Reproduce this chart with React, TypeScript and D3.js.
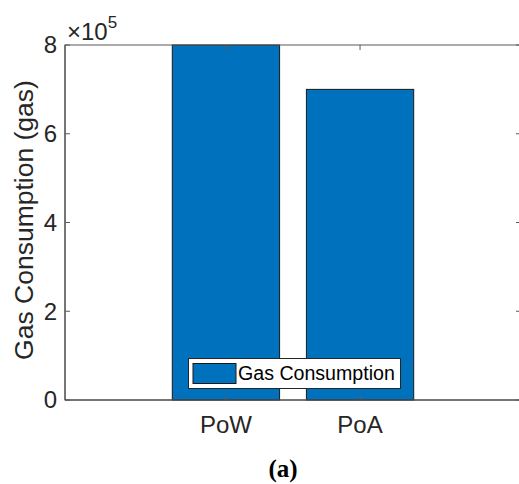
import React from "react"
import * as d3 from "d3"

// chart data
const categories = ["PoW", "PoA"]
const gasValues = [8.0e5, 7.0e5]
const yTickValues = [0, 2e5, 4e5, 6e5, 8e5]
const legendLabel = "Gas Consumption"
const yLabel = "Gas Consumption (gas)"
const caption = "a"

const W = 519
const H = 484
const plot = { left: 65, right: 521, top: 45, bottom: 400 }
const axisColor = "#262626"
const barColor = "#0072BD"
const font = "'Liberation Sans', Arial, sans-serif"

export default function App() {
  const x = d3.scaleLinear().domain([-0.2, 3.2]).range([plot.left, plot.right])
  const y = d3.scaleLinear().domain([0, 8e5]).range([plot.bottom, plot.top])
  const barW = x(0.8) - x(0)
  const tickLen = 5

  return (
    <div style={{ position: "absolute", left: 0, top: 0 }}>
      <svg width={W} height={H} style={{ display: "block", background: "#fff" }}>
        {/* bars */}
        {gasValues.map((v, i) => (
          <rect
            key={categories[i]}
            x={x(i + 1) - barW / 2}
            y={y(v)}
            width={barW}
            height={y(0) - y(v)}
            fill={barColor}
            stroke="#1a1a1a"
            strokeWidth={1}
          />
        ))}

        {/* axes box */}
        <rect
          x={plot.left}
          y={plot.top}
          width={plot.right - plot.left}
          height={plot.bottom - plot.top}
          fill="none"
          stroke="#595959"
          strokeWidth={1}
        />
        <line x1={plot.left} x2={plot.left} y1={plot.top} y2={plot.bottom} stroke="#404040" />
        <line x1={plot.left} x2={plot.right} y1={plot.bottom} y2={plot.bottom} stroke="#404040" />

        {/* y ticks */}
        {yTickValues.map((t) => (
          <g key={t}>
            <line x1={plot.left} x2={plot.left + tickLen} y1={y(t)} y2={y(t)} stroke="#595959" />
            <line x1={plot.right} x2={plot.right - tickLen} y1={y(t)} y2={y(t)} stroke="#595959" />
            <text
              x={plot.left - 8}
              y={y(t)}
              dy="0.35em"
              textAnchor="end"
              fontFamily={font}
              fontSize={24}
              fill={axisColor}
            >
              {t / 1e5}
            </text>
          </g>
        ))}

        {/* x ticks */}
        {categories.map((c, i) => (
          <g key={c}>
            <line x1={x(i + 1)} x2={x(i + 1)} y1={plot.bottom} y2={plot.bottom - tickLen} stroke="#595959" />
            <line x1={x(i + 1)} x2={x(i + 1)} y1={plot.top} y2={plot.top + tickLen} stroke="#595959" />
            <text
              x={x(i + 1)}
              y={433}
              textAnchor="middle"
              fontFamily={font}
              fontSize={24}
              fill={axisColor}
            >
              {c}
            </text>
          </g>
        ))}

        {/* exponent */}
        <text x={67} y={40} fontFamily={font} fontSize={24} fill={axisColor}>
          ×10
          <tspan dy={-12} fontSize={17}>5</tspan>
        </text>

        {/* y label */}
        <text
          transform={`translate(33,220) rotate(-90)`}
          textAnchor="middle"
          fontFamily={font}
          fontSize={26.5}
          fill={axisColor}
        >
          {yLabel}
        </text>

        {/* legend */}
        <rect x={188.5} y={358.5} width={212} height={30} fill="#fff" stroke="#262626" strokeWidth={1} />
        <rect x={193} y={363.5} width={43} height={20} fill={barColor} stroke="#1a1a1a" strokeWidth={1} />
        <text x={238} y={380} fontFamily={font} fontSize={19.6} fill="#000">
          {legendLabel}
        </text>

        {/* caption */}
        <text
          x={283}
          y={477}
          textAnchor="middle"
          fontFamily="'Liberation Serif', 'DejaVu Serif', serif"
          fontSize={25}
          fontWeight="bold"
          fill="#000"
        >
          ({caption})
        </text>
      </svg>
    </div>
  )
}
